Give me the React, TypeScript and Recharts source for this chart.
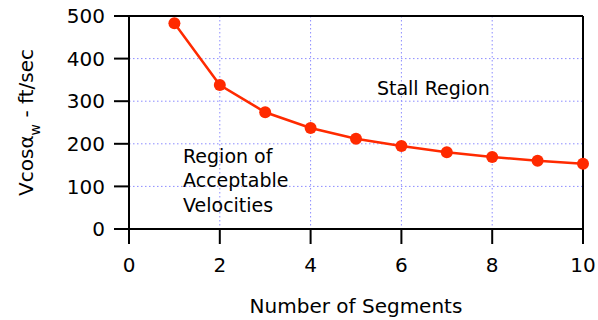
import { LineChart, Line, XAxis, YAxis, CartesianGrid, ReferenceLine, ReferenceDot } from 'recharts'

// page has default 8px body margin; drop it so the svg sits at the origin
document.body.style.margin = '0'

const segments = [1, 2, 3, 4, 5, 6, 7, 8, 9, 10]
const velocity = [483, 338, 274, 237, 212, 195, 180, 169, 160, 153]
const xTicks = [0, 2, 4, 6, 8, 10]
const yTicks = [0, 100, 200, 300, 400, 500]

const FONT = '"DejaVu Sans", Verdana, sans-serif'
const LINE_RED = '#ff2a00'
const GRID_BLUE = '#8c8cff'

const data = segments.map((n, i) => ({ n, v: velocity[i] }))

function YTitle({ viewBox }: any) {
  const cy = viewBox.y + viewBox.height / 2
  const x = 33
  return (
    <text
      x={x}
      y={cy}
      transform={`rotate(-90 ${x} ${cy})`}
      textAnchor="middle"
      fontFamily={FONT}
      fontSize={20}
      fill="#000"
    >
      Vcosα
      <tspan fontSize={14} dy={7}>w</tspan>
      <tspan dy={-7}> - ft/sec</tspan>
    </text>
  )
}

function XTitle({ viewBox }: any) {
  return (
    <text
      x={viewBox.x + viewBox.width / 2}
      y={313}
      textAnchor="middle"
      fontFamily={FONT}
      fontSize={20}
      fill="#000"
    >
      Number of Segments
    </text>
  )
}

// multi-line note anchored at a data point (top-left baseline)
function Note(lines: string[]) {
  return ({ viewBox }: any) => (
    <text x={viewBox.x} y={viewBox.y} fontFamily={FONT} fontSize={19} fill="#000">
      {lines.map((s, i) => (
        <tspan key={i} x={viewBox.x} dy={i === 0 ? 0 : 24.5}>
          {s}
        </tspan>
      ))}
    </text>
  )
}

export default function App() {
  return (
    <LineChart
      width={598}
      height={320}
      data={data}
      margin={{ top: 16, right: 15, bottom: 0, left: 0 }}
    >
      <CartesianGrid stroke={GRID_BLUE} strokeDasharray="1.5 2.5" strokeWidth={1} />
      <XAxis
        dataKey="n"
        type="number"
        domain={[0, 10]}
        ticks={xTicks}
        height={91}
        tickSize={15}
        tickMargin={14}
        stroke="#000"
        strokeWidth={2}
        tick={{ fill: '#000', fontSize: 20, fontFamily: FONT }}
        label={<XTitle />}
      />
      <YAxis
        type="number"
        domain={[0, 500]}
        ticks={yTicks}
        width={129}
        tickSize={15}
        tickMargin={9}
        stroke="#000"
        strokeWidth={2}
        tick={{ fill: '#000', fontSize: 20, fontFamily: FONT }}
        label={<YTitle />}
      />
      <ReferenceLine y={500} stroke="#000" strokeWidth={2} />
      <ReferenceLine x={10} stroke="#000" strokeWidth={2} />
      <ReferenceDot x={5.46} y={315} r={0} stroke="none" label={Note(['Stall Region'])} />
      <ReferenceDot
        x={1.19}
        y={155}
        r={0}
        stroke="none"
        label={Note(['Region of', 'Acceptable', 'Velocities'])}
      />
      <Line
        dataKey="v"
        stroke={LINE_RED}
        strokeWidth={2.5}
        dot={{ r: 6, fill: LINE_RED, stroke: LINE_RED, strokeWidth: 0 }}
        isAnimationActive={false}
      />
    </LineChart>
  )
}
